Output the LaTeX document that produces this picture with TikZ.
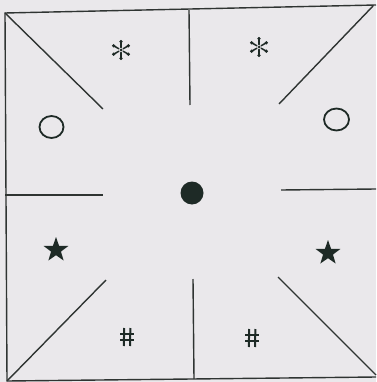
\documentclass[tikz,border=0pt]{standalone}
\usetikzlibrary{shapes.geometric}
\definecolor{paper}{RGB}{234,232,235}
\definecolor{ink}{RGB}{47,52,50}
\definecolor{sym}{RGB}{30,42,38}
\tikzset{
  edge/.style={draw=ink, line width=1.4pt},
  ring/.style={draw=sym, line width=1.8pt},
  starsym/.style={star, star points=5, star point ratio=2.5, fill=sym, draw=none, minimum size=26pt, inner sep=0pt},
}
\newcommand{\astsym}[1]{%
  \begin{scope}[shift={#1}]
    \foreach \a in {90,30,-30,-90,150,210}{
      \draw[sym, line width=1.5pt, line cap=round] (\a:2.5) -- (\a:9);
      \fill[sym] (\a:8.4) circle (1.8);
    }
    \fill[sym] (0,0) circle (1.5);
  \end{scope}}
\newcommand{\hashsym}[1]{%
  \begin{scope}[shift={#1}, sym, line width=2pt]
    \draw (-2.8,-9) -- (-3.2,9);
    \draw (3.4,-9) -- (3.0,9);
    \draw (-7,-3.2) -- (7,-3.2);
    \draw (-7,3.2) -- (7,3.2);
  \end{scope}}
\begin{document}
\begin{tikzpicture}[x=1pt,y=-1pt]
\fill[paper] (0,0) rectangle (376,382);
\useasboundingbox (0,0) rectangle (376,382);
% corners
\coordinate (TL) at (5,13);
\coordinate (TR) at (376,5);
\coordinate (BL) at (7,381);
\coordinate (BR) at (376,377);
% frame
\draw[edge] (TR) -- (TL) -- (BL) -- (BR);
% inner strokes
\coordinate (d1) at (103,109);
\draw[edge] (TL) -- (d1);
\coordinate (v1a) at (189,10);
\coordinate (v1b) at (190,105);
\draw[edge] (v1a) -- (v1b);
\coordinate (d2a) at (373,6);
\coordinate (d2b) at (279,104);
\draw[edge] (d2a) -- (d2b);
\coordinate (h1a) at (5,195);
\coordinate (h1b) at (103,195);
\draw[edge] (h1a) -- (h1b);
\coordinate (h2a) at (281,190);
\coordinate (h2b) at (376,189);
\draw[edge] (h2a) -- (h2b);
\coordinate (d3) at (106,280);
\draw[edge] (BL) -- (d3);
\coordinate (v2a) at (193,279);
\coordinate (v2b) at (194,379);
\draw[edge] (v2a) -- (v2b);
\coordinate (d4a) at (278,277);
\coordinate (d4b) at (376,375);
\draw[edge] (d4a) -- (d4b);
% symbols
\astsym{(121,50)}
\astsym{(259,47)}
\node[ring, ellipse, minimum width=24pt, minimum height=22pt, inner sep=0pt] (oL) at (51.5,127) {};
\node[ring, ellipse, minimum width=25pt, minimum height=22pt, inner sep=0pt] (oR) at (336.5,119.5) {};
\node[circle, fill=sym, minimum size=23pt, inner sep=0pt] (dot) at (192,193) {};
\node[starsym] (sL) at (56,250) {};
\node[starsym] (sR) at (328,253) {};
\hashsym{(127,337)}
\hashsym{(252,338)}
\end{tikzpicture}
\end{document}
